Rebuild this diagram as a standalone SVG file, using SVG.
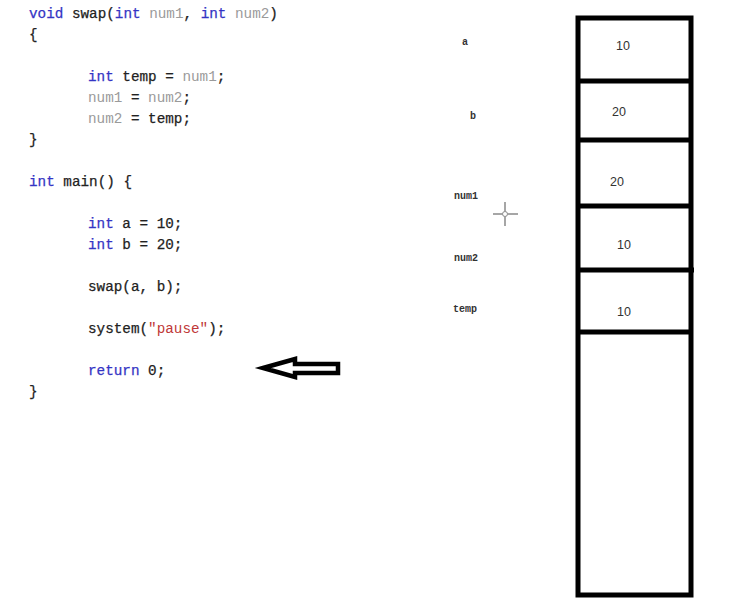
<svg xmlns="http://www.w3.org/2000/svg" width="746" height="616" viewBox="0 0 746 616">
  <style>
    .code { font-family: "Liberation Mono", "DejaVu Sans Mono", monospace; font-size: 14.3px; fill: #222; stroke: #222; stroke-width: 0.25; }
    .kw { fill: #3434c4; stroke: #3434c4; }
    .var { fill: #9a9a9a; stroke: none; }
    .str { fill: #c03838; stroke: none; }
    .lbl { font-family: "Liberation Mono", "DejaVu Sans Mono", monospace; font-size: 10px; fill: #333; font-weight: bold; }
    .val { font-family: "Liberation Sans", Arial, sans-serif; font-size: 12.5px; fill: #333; text-anchor: middle; }
    .cell { fill: none; stroke: #000; stroke-width: 5; }
  </style>
  <rect width="746" height="616" fill="#fff"/>

  <!-- source listing -->
  <g id="code">
    <text class="code" x="29" y="18"><tspan class="kw">void</tspan> swap(<tspan class="kw">int</tspan> <tspan class="var">num1</tspan>, <tspan class="kw">int</tspan> <tspan class="var">num2</tspan>)</text>
    <text class="code" x="29" y="39">{</text>
    <text class="code" x="88" y="81"><tspan class="kw">int</tspan> temp = <tspan class="var">num1</tspan>;</text>
    <text class="code" x="88" y="102"><tspan class="var">num1</tspan> = <tspan class="var">num2</tspan>;</text>
    <text class="code" x="88" y="123"><tspan class="var">num2</tspan> = temp;</text>
    <text class="code" x="29" y="144">}</text>
    <text class="code" x="29" y="186"><tspan class="kw">int</tspan> main() {</text>
    <text class="code" x="88" y="228"><tspan class="kw">int</tspan> a = 10;</text>
    <text class="code" x="88" y="249"><tspan class="kw">int</tspan> b = 20;</text>
    <text class="code" x="88" y="291">swap(a, b);</text>
    <text class="code" x="88" y="333">system(<tspan class="str">"pause"</tspan>);</text>
    <text class="code" x="88" y="375"><tspan class="kw">return</tspan> 0;</text>
    <text class="code" x="29" y="396">}</text>
  </g>

  <!-- pointer arrow at the current line -->
  <g id="pointer">
    <path d="M263,368 L295,359 L295,364 L338,364 L338,373 L295,373 L295,377 Z" fill="#fff" stroke="#000" stroke-width="4.5" stroke-linejoin="miter"/>
  </g>

  <!-- stack frame -->
  <g id="stack">
    <rect class="cell" x="578" y="18" width="113" height="577"/>
    <line class="cell" x1="578" y1="81" x2="691" y2="81"/>
    <line class="cell" x1="578" y1="140" x2="691" y2="140"/>
    <line class="cell" x1="578" y1="206" x2="691" y2="206"/>
    <line class="cell" x1="578" y1="270" x2="694" y2="270"/>
    <line class="cell" x1="578" y1="332" x2="691" y2="332"/>
  </g>

  <g id="slot-a">
    <text class="lbl" x="462" y="45">a</text>
    <text class="val" x="623" y="50">10</text>
  </g>
  <g id="slot-b">
    <text class="lbl" x="470" y="119">b</text>
    <text class="val" x="619" y="116">20</text>
  </g>
  <g id="slot-num1">
    <text class="lbl" x="454" y="199">num1</text>
    <text class="val" x="617" y="186">20</text>
  </g>
  <g id="slot-num2">
    <text class="lbl" x="454" y="261">num2</text>
    <text class="val" x="624" y="249">10</text>
  </g>
  <g id="slot-temp">
    <text class="lbl" x="453" y="312">temp</text>
    <text class="val" x="624" y="316">10</text>
  </g>

  <!-- mouse cursor -->
  <g id="cursor" stroke="#888" stroke-width="1.5" fill="none">
    <line x1="493" y1="214" x2="502" y2="214"/>
    <line x1="508" y1="214" x2="518" y2="214"/>
    <line x1="505" y1="202" x2="505" y2="211"/>
    <line x1="505" y1="217" x2="505" y2="226"/>
    <circle cx="505" cy="214" r="2.5" stroke-width="1"/>
  </g>
</svg>
